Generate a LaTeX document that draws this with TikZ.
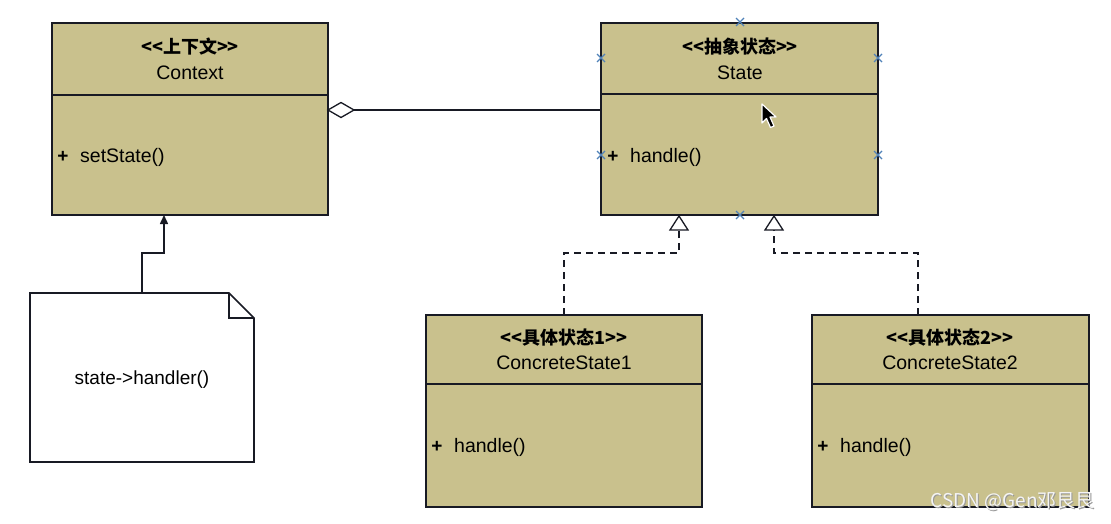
\documentclass[tikz,border=0pt]{standalone}
\usepackage{fontspec}
\setmainfont{Liberation Sans}
\newfontfamily\cjk{Noto Sans CJK SC}
\usetikzlibrary{arrows.meta}
\definecolor{khaki}{RGB}{201,193,141}
\definecolor{edge}{RGB}{24,26,36}
\definecolor{handlecol}{RGB}{80,130,185}
\tikzset{
  classbox/.style={draw=edge, line width=1.8pt, fill=khaki},
  divider/.style={draw=edge, line width=1.4pt},
  stereo/.style={font=\cjk\fontsize{18}{20}\selectfont\bfseries, inner sep=0pt},
  cname/.style={font=\fontsize{19.5}{22}\selectfont, inner sep=0pt},
  member/.style={font=\fontsize{19.5}{22}\selectfont, inner sep=0pt, anchor=west},
  plus/.style={font=\fontsize{19}{22}\selectfont\bfseries, inner sep=0pt},
  conn/.style={draw=edge, line width=1.5pt},
  dashconn/.style={draw=edge, line width=1.5pt, dash pattern=on 7pt off 5pt},
  notebox/.style={draw=edge, line width=1.6pt, fill=white},
  selmark/.style={draw=handlecol, line width=1.1pt},
}
\begin{document}
\begin{tikzpicture}[x=1pt,y=-1pt]
\useasboundingbox (0,0) rectangle (1111,523);
\fill[white] (0,0) rectangle (1111,523);

% ---------- Context ----------
\draw[classbox] (52,23) rectangle (328,215);
\draw[divider] (52,95) -- (328,95);
\node[stereo] (ctxst) at (190,47) {<<上下文>>};
\node[cname] (ctxname) at (190,73) {Context};
\node[plus] (ctxplus) at (63,157) {+};
\node[member] (ctxm) at (80,157) {setState()};
\coordinate (ctxR) at (328,110);
\coordinate (ctxB) at (164,215);

% ---------- State ----------
\draw[classbox] (601,23) rectangle (878,215);
\draw[divider] (601,94) -- (878,94);
\node[stereo] (stst) at (740,47) {<<抽象状态>>};
\node[cname] (stname) at (740,73) {State};
\node[plus] (stplus) at (613,157) {+};
\node[member] (stm) at (630,157) {handle()};
\coordinate (stL) at (601,110);
\coordinate (stB1) at (679,215);
\coordinate (stB2) at (774,215);

% ---------- ConcreteState1 ----------
\draw[classbox] (426,315) rectangle (702,507);
\draw[divider] (426,384) -- (702,384);
\node[stereo] (c1st) at (564,338) {<<具体状态1>>};
\node[cname] (c1name) at (564,363) {ConcreteState1};
\node[plus] (c1plus) at (437,447) {+};
\node[member] (c1m) at (454,447) {handle()};
\coordinate (c1T) at (564,315);

% ---------- ConcreteState2 ----------
\draw[classbox] (812,315) rectangle (1089,507);
\draw[divider] (812,384) -- (1089,384);
\node[stereo] (c2st) at (950,338) {<<具体状态2>>};
\node[cname] (c2name) at (950,363) {ConcreteState2};
\node[plus] (c2plus) at (823,447) {+};
\node[member] (c2m) at (840,447) {handle()};
\coordinate (c2T) at (918,315);

% ---------- Note ----------
\draw[notebox] (30,293) -- (229,293) -- (254,318) -- (254,462) -- (30,462) -- cycle;
\draw[conn, line width=1.4pt] (229,293) -- (229,318) -- (254,318);
\node[cname, font=\fontsize{19}{22}\selectfont] (notetext) at (142,380) {state->handler()};
\coordinate (noteT) at (142,293);

% ---------- Connectors ----------
% aggregation
\draw[conn] (stL) -- (354,110);
\draw[draw=edge, line width=1.3pt, fill=white] (ctxR) -- (341,102.5) -- (354,110) -- (341,117.5) -- cycle;
% note -> context
\draw[conn, -{Triangle[length=9pt,width=8pt]}] (noteT) -- (142,253) -- (164,253) -- (ctxB);
% realizations
\draw[dashconn] (c1T) -- (564,253) -- (679,253) -- (679,230);
\draw[draw=edge, line width=1.3pt, fill=white] (670,230) -- (679,216) -- (688,230) -- cycle;
\draw[dashconn] (c2T) -- (918,253) -- (774,253) -- (774,230);
\draw[draw=edge, line width=1.3pt, fill=white] (765,230) -- (774,216) -- (783,230) -- cycle;

% ---------- selection handles on State ----------
\foreach \p in {(740,22),(601,58),(878,58),(601,155),(878,155),(740,215)}{
  \draw[selmark] \p ++(-4,-4) -- ++(8,8) \p ++(-4,4) -- ++(8,-8);
}

% ---------- mouse cursor ----------
\draw[white, line width=1.2pt, fill=black, line join=round]
  (762,104) -- (762,123) -- (766.5,118.5) -- (770.5,127.5) -- (774,126) -- (770,117) -- (776,117) -- cycle;

% ---------- watermark ----------
\node[font=\cjk\fontsize{19}{22}\selectfont, text=gray!80, inner sep=0pt] (wm0) at (1013.5,502.5) {CSDN @Gen邓艮艮};
\node[font=\cjk\fontsize{19}{22}\selectfont, text=white!92!gray, inner sep=0pt] (wm) at (1012.5,501.5) {CSDN @Gen邓艮艮};
\end{tikzpicture}
\end{document}
